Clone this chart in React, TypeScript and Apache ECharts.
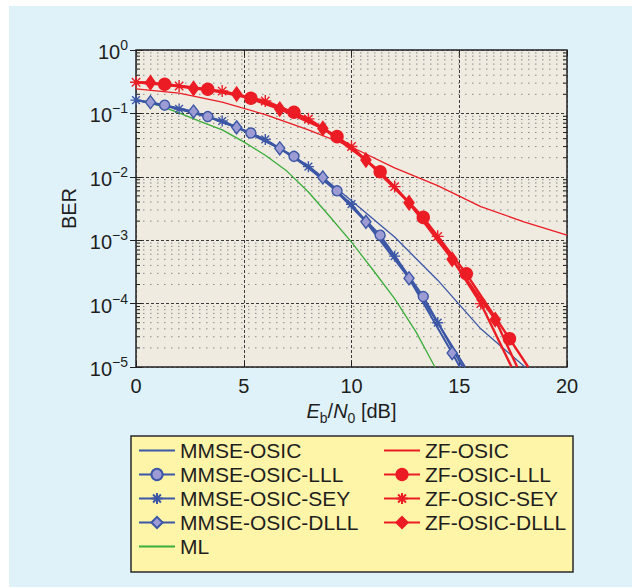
import React, { useEffect, useRef } from 'react';
import * as echarts from 'echarts';

const FONT = '"Liberation Sans", Arial, Helvetica, sans-serif';
const RED = '#ec1c24';
const BLUE = '#3b57a6';
const LAV = '#9d9bd3';
const GREEN = '#3aad3a';
const TXT = '#1e1e1e';
const NONE = 'rgba(0,0,0,0)';

const X_MIN = 0;
const X_MAX = 20;
const Y_MIN = 1e-5;
const Y_MAX = 1;

// Decades and minor multipliers (log grid decoration)
const decades = [1e-5, 1e-4, 1e-3, 1e-2, 1e-1];
const minorMultipliers = [2, 3, 4, 5, 6, 7, 8, 9];

// ---- Data (Eb/N0 in dB, BER) ----
const mmseOsicX = [0, 2, 4, 6, 8, 10, 12, 14, 16, 18.05];
const mmseOsicY = [0.162, 0.117, 0.076, 0.039, 0.0151, 4.2e-3, 1.12e-3, 2.34e-4, 4.0e-5, 1e-5];

const mmseLllX = [0, 1.33, 3.33, 5.33, 7.33, 9.33, 11.33, 13.33, 15.16];
const mmseLllY = [0.162, 0.135, 0.089, 0.049, 0.021, 6.0e-3, 1.2e-3, 1.29e-4, 1e-5];

const mmseSeyX = [0, 2, 4, 6, 8, 10, 12, 14, 15.27];
const mmseSeyY = [0.162, 0.1175, 0.0759, 0.0389, 0.01445, 3.7e-3, 5.6e-4, 5.0e-5, 1e-5];

const mmseDlllX = [0, 0.67, 2.67, 4.67, 6.67, 8.67, 10.67, 12.67, 14.67, 15.03];
const mmseDlllY = [0.162, 0.15, 0.107, 0.0603, 0.0282, 9.77e-3, 1.95e-3, 2.51e-4, 1.66e-5, 1e-5];

const mlX = [0, 1, 2, 3, 4, 5, 6, 7, 8, 9, 10, 11, 12, 13, 13.87];
const mlY = [0.162, 0.135, 0.102, 0.0741, 0.055, 0.0355, 0.0219, 0.0123, 5.75e-3, 2.34e-3, 9.3e-4, 3.39e-4, 1.2e-4, 3.55e-5, 1e-5];

const zfOsicX = [0, 2, 4, 6, 8, 10, 12, 14, 16, 18, 20];
const zfOsicY = [0.243, 0.209, 0.151, 0.0955, 0.055, 0.0295, 0.0138, 7.24e-3, 3.39e-3, 1.95e-3, 1.2e-3];

const zfLllX = [0, 1.33, 3.33, 5.33, 7.33, 9.33, 11.33, 13.33, 15.33, 17.33, 18.2];
const zfLllY = [0.31, 0.288, 0.24, 0.173, 0.104, 0.043, 0.012, 2.29e-3, 2.95e-4, 2.8e-5, 1e-5];

const zfSeyX = [0, 2, 4, 6, 8, 10, 12, 14, 16, 17.43];
const zfSeyY = [0.31, 0.27, 0.225, 0.157, 0.082, 0.030, 7.0e-3, 1.15e-3, 1.0e-4, 1e-5];

const zfDlllX = [0, 0.67, 2.67, 4.67, 6.67, 8.67, 10.67, 12.67, 14.67, 16.67, 17.69];
const zfDlllY = [0.31, 0.305, 0.248, 0.202, 0.117, 0.058, 0.0184, 3.9e-3, 5.0e-4, 5.6e-5, 1e-5];

const legendCol1 = ['MMSE-OSIC', 'MMSE-OSIC-LLL', 'MMSE-OSIC-SEY', 'MMSE-OSIC-DLLL', 'ML'];
const legendCol2 = ['ZF-OSIC', 'ZF-OSIC-LLL', 'ZF-OSIC-SEY', 'ZF-OSIC-DLLL'];

const STAR = 'path://M5,0L5,10M0,5L10,5M1.5,1.5L8.5,8.5M1.5,8.5L8.5,1.5';

function pts(xs: number[], ys: number[], markerAtZero: boolean) {
  return xs.map((x, i) => {
    const v = [x, ys[i]];
    const hide = ys[i] <= Y_MIN || (x === 0 && !markerAtZero);
    return hide ? { value: v, symbol: 'none' } : v;
  });
}

function plain(name: string, xs: number[], ys: number[], color: string, z: number) {
  return {
    type: 'line', name, z, symbol: 'none', clip: true,
    data: pts(xs, ys, false),
    lineStyle: { color, width: 1.3 },
    itemStyle: { color: NONE, borderColor: NONE, borderWidth: 0 },
    emphasis: { disabled: true },
  };
}

function marked(name: string, xs: number[], ys: number[], color: string, fill: string, symbol: string, size: any, width: number, z: number, markerAtZero: boolean) {
  return {
    type: 'line', name, z, symbol, symbolSize: size, clip: true,
    data: pts(xs, ys, markerAtZero),
    lineStyle: { color, width },
    itemStyle: { color: fill, borderColor: color, borderWidth: 1.4 },
    emphasis: { disabled: true },
  };
}

const minorValues = decades.flatMap((d) => minorMultipliers.map((m) => m * d));

const supLabel = (v: number) => {
  const e = Math.round(Math.log10(v));
  return `{b|10}{s|${e === 0 ? '0' : '\u2212' + -e}}`;
};

const axisLabelRich = {
  b: { fontSize: 20, lineHeight: 24, verticalAlign: 'bottom', color: TXT, fontFamily: FONT },
  s: { fontSize: 14, lineHeight: 14, verticalAlign: 'top', color: TXT, fontFamily: FONT },
};

const tickStyle = { color: '#222', width: 1 };

const legendBase = {
  top: 434, orient: 'vertical', padding: 0,
  itemWidth: 36, itemHeight: 14, itemGap: 3, selectedMode: false,
  textStyle: { fontSize: 21, lineHeight: 21, color: TXT, fontFamily: FONT },
};

const option: any = {
  animation: false,
  backgroundColor: '#dff2fa',
  textStyle: { fontFamily: FONT },
  grid: {
    left: 127, top: 44, right: 65, bottom: 220,
    show: true, backgroundColor: '#efebe1', borderColor: '#222', borderWidth: 1.5,
  },
  graphic: [
    {
      type: 'rect', z: -1, silent: true,
      shape: { x: 122, y: 430, width: 442, height: 136 },
      style: { fill: '#fff5a8', stroke: '#2a2a2a', lineWidth: 1.5 },
    },
  ],
  legend: [
    { ...legendBase, left: 129, data: legendCol1 },
    { ...legendBase, left: 374, data: legendCol2 },
  ],
  xAxis: [
    {
      type: 'value', min: X_MIN, max: X_MAX, interval: 5, position: 'bottom',
      axisLine: { show: false },
      axisTick: { show: true, inside: true, length: 6, lineStyle: tickStyle },
      axisLabel: { fontSize: 20, color: TXT, margin: 9, fontFamily: FONT },
      splitLine: { show: true, lineStyle: { color: '#3a3a3a', type: [3, 2], width: 1 } },
      name: '{i|E}{sub|b}{n|/}{i|N}{sub|0}{n| [dB]}',
      nameLocation: 'middle', nameGap: 30,
      nameTextStyle: {
        rich: {
          i: { fontSize: 20, fontStyle: 'italic', lineHeight: 24, verticalAlign: 'top', color: TXT, fontFamily: FONT },
          sub: { fontSize: 14, lineHeight: 14, verticalAlign: 'bottom', color: TXT, fontFamily: FONT },
          n: { fontSize: 20, lineHeight: 24, verticalAlign: 'top', color: TXT, fontFamily: FONT },
        },
      },
    },
    {
      type: 'value', min: X_MIN, max: X_MAX, interval: 5, position: 'top',
      axisLine: { show: false },
      axisTick: { show: true, inside: true, length: 6, lineStyle: tickStyle },
      axisLabel: { show: false }, splitLine: { show: false },
    },
  ],
  yAxis: [
    {
      type: 'log', logBase: 10, min: Y_MIN, max: Y_MAX, position: 'left',
      axisLine: { show: false },
      axisTick: { show: true, inside: true, length: 6, lineStyle: tickStyle },
      axisLabel: { formatter: supLabel, margin: 8, rich: axisLabelRich },
      splitLine: { show: true, lineStyle: { color: '#3a3a3a', type: [3, 2], width: 1 } },
      minorTick: { show: false }, minorSplitLine: { show: false },
      name: 'BER', nameLocation: 'middle', nameGap: 52,
      nameTextStyle: { fontSize: 20, color: TXT, fontFamily: FONT },
    },
    {
      type: 'log', logBase: 10, min: Y_MIN, max: Y_MAX, position: 'right',
      axisLine: { show: false },
      axisTick: { show: true, inside: true, length: 6, lineStyle: tickStyle },
      axisLabel: { show: false }, splitLine: { show: false },
    },
  ],
  series: [
    {
      type: 'custom', name: 'minor-grid', silent: true, z: 1,
      xAxisIndex: 0, yAxisIndex: 0,
      data: minorValues.map((v) => [X_MIN, v]),
      encode: { x: 0, y: 1 },
      renderItem: (params: any, api: any) => {
        const v = api.value(1);
        const a = api.coord([X_MIN, v]);
        const b = api.coord([X_MAX, v]);
        return {
          type: 'group',
          children: [
            { type: 'line', shape: { x1: a[0], y1: a[1], x2: b[0], y2: b[1] }, style: { stroke: '#8a8a8a', lineWidth: 1, lineDash: [1.5, 5.5] } },
            { type: 'line', shape: { x1: a[0], y1: a[1], x2: a[0] + 4, y2: a[1] }, style: { stroke: '#222', lineWidth: 1 } },
            { type: 'line', shape: { x1: b[0] - 4, y1: b[1], x2: b[0], y2: b[1] }, style: { stroke: '#222', lineWidth: 1 } },
          ],
        };
      },
    },
    plain('MMSE-OSIC', mmseOsicX, mmseOsicY, BLUE, 3),
    marked('MMSE-OSIC-LLL', mmseLllX, mmseLllY, BLUE, LAV, 'circle', 10, 2, 4, false),
    marked('MMSE-OSIC-SEY', mmseSeyX, mmseSeyY, BLUE, BLUE, STAR, 11, 2, 4, true),
    marked('MMSE-OSIC-DLLL', mmseDlllX, mmseDlllY, BLUE, LAV, 'diamond', [10, 13], 2, 4, false),
    plain('ML', mlX, mlY, GREEN, 3),
    plain('ZF-OSIC', zfOsicX, zfOsicY, RED, 3),
    marked('ZF-OSIC-LLL', zfLllX, zfLllY, RED, RED, 'circle', 12, 2.4, 5, false),
    marked('ZF-OSIC-SEY', zfSeyX, zfSeyY, RED, RED, STAR, 12, 2.4, 5, true),
    marked('ZF-OSIC-DLLL', zfDlllX, zfDlllY, RED, RED, 'diamond', [10, 14], 2.4, 5, false),
  ],
};

export default function App() {
  const ref = useRef<HTMLDivElement>(null);
  useEffect(() => {
    const chart = echarts.init(ref.current!, null, { renderer: 'svg' });
    chart.setOption(option);
    return () => chart.dispose();
  }, []);
  return (
    <div style={{ position: 'absolute', left: 0, top: 0, width: 632, height: 588, background: '#ffffff' }}>
      <div ref={ref} style={{ position: 'absolute', left: 9, top: 6, width: 623, height: 581 }} />
    </div>
  );
}
